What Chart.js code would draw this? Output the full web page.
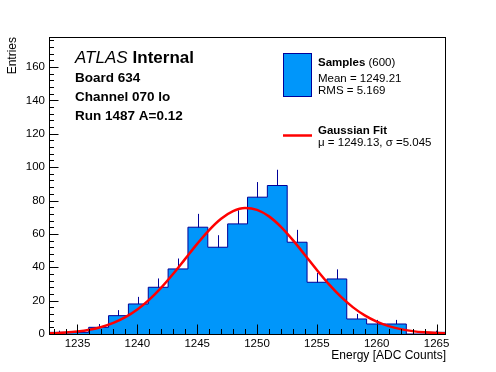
<!DOCTYPE html>
<html>
<head>
<meta charset="utf-8">
<script src="https://cdn.jsdelivr.net/npm/chart.js@4.4.1/dist/chart.umd.min.js"></script>
<style>
  html, body { margin: 0; padding: 0; background: #ffffff; }
  canvas { display: block; }
</style>
</head>
<body>
<canvas id="c" width="496" height="372"></canvas>
<script>
// ---- data ----
const xMin = 1232.62;
const xMax = 1265.79;
const binCounts = [1, 1, 4, 11, 18, 28, 39, 64, 52, 66, 82, 89, 55, 31, 33, 9, 6, 6, 0, 1];
const xTickValues = [1235, 1240, 1245, 1250, 1255, 1260, 1265];
const yTickValues = [0, 20, 40, 60, 80, 100, 120, 140, 160];
const yMax = 178;
// Gaussian fit curve
const fitX = [1232.62, 1233, 1234, 1235, 1236, 1237, 1238, 1239, 1240, 1241, 1242, 1243, 1244, 1245, 1246, 1247, 1248, 1249, 1250, 1251, 1252, 1253, 1254, 1255, 1256, 1257, 1258, 1259, 1260, 1261, 1262, 1263, 1264, 1265, 1265.79];
const fitY = [0.35, 0.46, 0.84, 1.49, 2.55, 4.20, 6.62, 10.06, 14.68, 20.60, 27.82, 36.09, 45.02, 54.0, 62.28, 69.06, 73.63, 75.47, 74.38, 70.49, 64.22, 56.25, 47.38, 38.37, 29.87, 22.36, 16.10, 11.14, 7.41, 4.74, 2.91, 1.72, 0.98, 0.54, 0.32];

const FONT = "'Liberation Sans', Arial, Helvetica, sans-serif";
const BLUE = 'rgb(0,150,250)';
const NAVY = '#000099';
const RED = '#ff0000';

const nBins = binCounts.length;
const binW = (xMax - xMin) / nBins;
const histPts = binCounts.map((n, i) => ({ x: xMin + i * binW, y: n }));
histPts.push({ x: xMax, y: binCounts[nBins - 1] });
const fitPts = fitX.map((v, i) => ({ x: v, y: fitY[i] }));

const overlay = {
  id: 'overlay',
  beforeDatasetsDraw(chart) {
    const { ctx, scales: { x, y }, chartArea: a } = chart;
    ctx.save();
    ctx.beginPath();
    ctx.rect(a.left, a.top, a.right - a.left, a.bottom - a.top);
    ctx.clip();
    ctx.strokeStyle = NAVY;
    ctx.lineWidth = 1;
    binCounts.forEach((n, i) => {
      if (n <= 0) return;
      const e = Math.sqrt(n);
      const px = Math.round(x.getPixelForValue(xMin + (i + 0.5) * binW)) + 0.5;
      ctx.beginPath();
      ctx.moveTo(px, y.getPixelForValue(n - e));
      ctx.lineTo(px, y.getPixelForValue(n + e));
      ctx.stroke();
    });
    ctx.restore();
  },
  afterDraw(chart) {
    const { ctx, scales: { x, y }, chartArea: a } = chart;
    ctx.save();
    // frame
    ctx.strokeStyle = '#000';
    ctx.lineWidth = 1;
    ctx.strokeRect(a.left + 0.5, a.top + 0.5, a.right - a.left - 1, a.bottom - a.top);
    // x ticks (inward)
    ctx.beginPath();
    for (let v = Math.ceil(xMin); v <= xMax; v += 1) {
      const px = Math.round(x.getPixelForValue(v)) + 0.5;
      const len = (v % 5 === 0) ? 9.5 : 5;
      ctx.moveTo(px, a.bottom);
      ctx.lineTo(px, a.bottom - len);
    }
    // y ticks (inward)
    for (let v = 0; v <= yMax; v += 4) {
      const py = Math.round(y.getPixelForValue(v)) + 0.5;
      const len = (v % 20 === 0) ? 9.5 : 5;
      ctx.moveTo(a.left, py);
      ctx.lineTo(a.left + len, py);
    }
    ctx.stroke();

    ctx.fillStyle = '#000';
    // axis titles
    ctx.font = '12px ' + FONT;
    ctx.textAlign = 'right';
    ctx.textBaseline = 'alphabetic';
    ctx.fillText('Energy [ADC Counts]', a.right, 359);
    ctx.save();
    ctx.translate(16, a.top);
    ctx.rotate(-Math.PI / 2);
    ctx.textAlign = 'right';
    ctx.fillText('Entries', 0, 0);
    ctx.restore();

    // ATLAS label block
    ctx.textAlign = 'left';
    ctx.font = 'italic 17px ' + FONT;
    ctx.fillText('ATLAS', 75, 63);
    const wA = ctx.measureText('ATLAS').width;
    ctx.font = 'bold 17px ' + FONT;
    ctx.fillText('Internal', 75 + wA + 5, 63);
    ctx.font = 'bold 13.5px ' + FONT;
    ctx.fillText('Board 634', 75, 82);
    ctx.fillText('Channel 070 lo', 75, 101);
    ctx.fillText('Run 1487 A=0.12', 75, 120);

    // legend
    ctx.fillStyle = BLUE;
    ctx.fillRect(283.5, 53.5, 28, 43);
    ctx.strokeStyle = NAVY;
    ctx.strokeRect(283.5, 53.5, 28, 43);
    ctx.fillStyle = '#000';
    ctx.font = 'bold 11.5px ' + FONT;
    ctx.fillText('Samples', 318, 66);
    const wS = ctx.measureText('Samples').width;
    ctx.font = '11.5px ' + FONT;
    ctx.fillText(' (600)', 318 + wS, 66);
    ctx.fillText('Mean = 1249.21', 318, 82);
    ctx.fillText('RMS = 5.169', 318, 94);
    ctx.strokeStyle = RED;
    ctx.lineWidth = 2.5;
    ctx.beginPath();
    ctx.moveTo(283, 135.5);
    ctx.lineTo(312, 135.5);
    ctx.stroke();
    ctx.font = 'bold 11.5px ' + FONT;
    ctx.fillText('Gaussian Fit', 318, 134);
    ctx.font = '11.5px ' + FONT;
    ctx.fillText('\u03BC = 1249.13, \u03C3 =5.045', 318, 146);
    ctx.restore();
  }
};

new Chart(document.getElementById('c'), {
  type: 'line',
  data: {
    datasets: [
      {
        label: 'Gaussian Fit',
        data: fitPts,
        borderColor: RED,
        borderWidth: 2.5,
        pointRadius: 0,
        fill: false,
        cubicInterpolationMode: 'monotone',
        order: 0
      },
      {
        label: 'Samples',
        data: histPts,
        stepped: true,
        borderColor: NAVY,
        borderWidth: 1,
        backgroundColor: BLUE,
        pointRadius: 0,
        fill: 'origin',
        order: 1
      }
    ]
  },
  options: {
    responsive: false,
    animation: false,
    events: [],
    layout: { padding: { left: 0, top: 37, right: 50, bottom: 0 } },
    plugins: { legend: { display: false }, tooltip: { enabled: false } },
    scales: {
      x: {
        type: 'linear',
        min: xMin,
        max: xMax,
        grid: { display: false, drawTicks: false },
        border: { display: false },
        afterBuildTicks: s => { s.ticks = xTickValues.map(v => ({ value: v })); },
        afterFit: s => { s.height = 38; },
        ticks: { autoSkip: false, maxRotation: 0, padding: 3, color: '#000', font: { family: FONT, size: 11.5 },
                 callback: v => String(v) }
      },
      y: {
        type: 'linear',
        min: 0,
        max: yMax,
        grid: { display: false, drawTicks: false },
        border: { display: false },
        afterBuildTicks: s => { s.ticks = yTickValues.map(v => ({ value: v })); },
        afterFit: s => { s.width = 49; },
        ticks: { autoSkip: false, padding: 4, color: '#000', font: { family: FONT, size: 11.5 },
                 callback: v => String(v) }
      }
    }
  },
  plugins: [overlay]
});
</script>
</body>
</html>
